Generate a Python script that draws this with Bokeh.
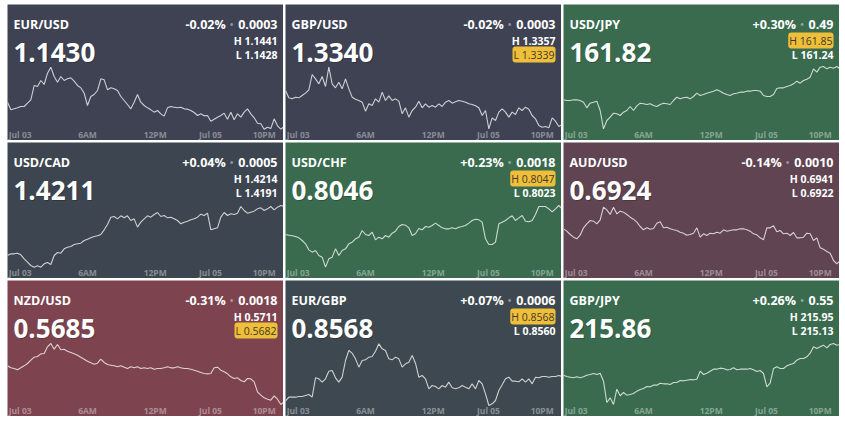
from bokeh.plotting import figure
from bokeh.layouts import gridplot
from bokeh.models import Label, Range1d
from bokeh.embed import file_html
from bokeh.resources import INLINE

# ---------------- data ----------------
pairs = ["EUR/USD", "GBP/USD", "USD/JPY", "USD/CAD", "USD/CHF", "AUD/USD", "NZD/USD", "EUR/GBP", "GBP/JPY"]
last_prices = ["1.1430", "1.3340", "161.82", "1.4211", "0.8046", "0.6924", "0.5685", "0.8568", "215.86"]
pct_changes = ["-0.02%", "-0.02%", "+0.30%", "+0.04%", "+0.23%", "-0.14%", "-0.31%", "+0.07%", "+0.26%"]
abs_changes = ["0.0003", "0.0003", "0.49", "0.0005", "0.0018", "0.0010", "0.0018", "0.0006", "0.55"]
highs = ["1.1441", "1.3357", "161.85", "1.4214", "0.8047", "0.6941", "0.5711", "0.8568", "215.95"]
lows = ["1.1428", "1.3339", "161.24", "1.4191", "0.8023", "0.6922", "0.5682", "0.8560", "215.13"]
high_flag = [False, False, True, False, True, False, False, True, False]
low_flag = [False, True, False, False, False, False, True, False, False]

time_ticks = [3.8, 24.0, 44.3, 60.9, 77.0]
time_labels = ["Jul 03", "6AM", "12PM", "Jul 05", "10PM"]

sample_index = list(range(84))

eurusd = [1.14207, 1.14184, 1.14187, 1.14190, 1.14194, 1.14194, 1.14204, 1.14214, 1.14257, 1.14254,
          1.14272, 1.14260, 1.14294, 1.14312, 1.14284, 1.14267, 1.14284, 1.14272, 1.14277, 1.14280,
          1.14270, 1.14257, 1.14250, 1.14234, 1.14197, 1.14224, 1.14230, 1.14242, 1.14277, 1.14274,
          1.14244, 1.14250, 1.14247, 1.14242, 1.14224, 1.14212, 1.14200, 1.14187, 1.14207, 1.14230,
          1.14207, 1.14197, 1.14190, 1.14184, 1.14177, 1.14182, 1.14172, 1.14165, 1.14190, 1.14194,
          1.14192, 1.14190, 1.14192, 1.14187, 1.14186, 1.14182, 1.14176, 1.14167, 1.14172, 1.14166,
          1.14167, 1.14150, 1.14156, 1.14162, 1.14167, 1.14174, 1.14156, 1.14177, 1.14154, 1.14172,
          1.14162, 1.14177, 1.14187, 1.14172, 1.14160, 1.14144, 1.14142, 1.14126, 1.14132, 1.14128,
          1.14157, 1.14136, 1.14126, 1.14134]
gbpusd = [1.33242, 1.33220, 1.33217, 1.33222, 1.33220, 1.33227, 1.33234, 1.33244, 1.33290, 1.33277,
          1.33262, 1.33284, 1.33254, 1.33312, 1.33262, 1.33250, 1.33267, 1.33247, 1.33277, 1.33247,
          1.33222, 1.33216, 1.33212, 1.33207, 1.33180, 1.33202, 1.33197, 1.33217, 1.33207, 1.33237,
          1.33212, 1.33226, 1.33212, 1.33217, 1.33210, 1.33172, 1.33190, 1.33162, 1.33182, 1.33192,
          1.33210, 1.33190, 1.33202, 1.33192, 1.33197, 1.33192, 1.33202, 1.33194, 1.33207, 1.33212,
          1.33204, 1.33208, 1.33212, 1.33210, 1.33207, 1.33202, 1.33200, 1.33196, 1.33190, 1.33167,
          1.33182, 1.33127, 1.33160, 1.33152, 1.33177, 1.33187, 1.33177, 1.33162, 1.33177, 1.33170,
          1.33190, 1.33182, 1.33192, 1.33186, 1.33167, 1.33157, 1.33137, 1.33132, 1.33134, 1.33130,
          1.33160, 1.33150, 1.33134, 1.33140]
usdjpy = [161.214, 161.212, 161.212, 161.214, 161.214, 161.212, 161.207, 161.190, 161.204, 161.207,
          161.210, 161.182, 161.127, 161.152, 161.162, 161.174, 161.172, 161.167, 161.177, 161.182,
          161.194, 161.182, 161.196, 161.204, 161.202, 161.200, 161.202, 161.197, 161.194, 161.200,
          161.204, 161.202, 161.200, 161.212, 161.222, 161.217, 161.220, 161.222, 161.217, 161.224,
          161.234, 161.227, 161.230, 161.234, 161.237, 161.240, 161.244, 161.240, 161.234, 161.230,
          161.227, 161.232, 161.234, 161.237, 161.237, 161.240, 161.240, 161.242, 161.242, 161.240,
          161.227, 161.224, 161.224, 161.230, 161.248, 161.250, 161.250, 161.254, 161.257, 161.262,
          161.270, 161.264, 161.272, 161.276, 161.282, 161.307, 161.297, 161.312, 161.314, 161.307,
          161.312, 161.309, 161.314, 161.307]
usdcad = [1.41161, 1.41166, 1.41166, 1.41168, 1.41163, 1.41151, 1.41141, 1.41131, 1.41126, 1.41130,
          1.41126, 1.41136, 1.41140, 1.41134, 1.41161, 1.41170, 1.41168, 1.41181, 1.41186, 1.41188,
          1.41194, 1.41196, 1.41198, 1.41206, 1.41210, 1.41214, 1.41218, 1.41220, 1.41224, 1.41238,
          1.41254, 1.41276, 1.41278, 1.41271, 1.41280, 1.41274, 1.41280, 1.41266, 1.41271, 1.41246,
          1.41261, 1.41271, 1.41280, 1.41276, 1.41284, 1.41290, 1.41278, 1.41281, 1.41274, 1.41276,
          1.41271, 1.41266, 1.41256, 1.41261, 1.41264, 1.41268, 1.41271, 1.41276, 1.41285, 1.41281,
          1.41288, 1.41238, 1.41241, 1.41244, 1.41276, 1.41290, 1.41281, 1.41286, 1.41284, 1.41288,
          1.41308, 1.41296, 1.41288, 1.41291, 1.41294, 1.41301, 1.41304, 1.41296, 1.41301, 1.41308,
          1.41298, 1.41306, 1.41311, 1.41308]
usdchf = [0.80224, 0.80222, 0.80220, 0.80218, 0.80214, 0.80206, 0.80196, 0.80178, 0.80171, 0.80176,
          0.80161, 0.80156, 0.80126, 0.80151, 0.80156, 0.80181, 0.80161, 0.80176, 0.80181, 0.80196,
          0.80201, 0.80211, 0.80216, 0.80236, 0.80224, 0.80221, 0.80231, 0.80208, 0.80216, 0.80211,
          0.80221, 0.80216, 0.80228, 0.80234, 0.80248, 0.80254, 0.80252, 0.80244, 0.80221, 0.80226,
          0.80242, 0.80238, 0.80248, 0.80246, 0.80251, 0.80258, 0.80251, 0.80244, 0.80241, 0.80241,
          0.80244, 0.80241, 0.80246, 0.80248, 0.80251, 0.80258, 0.80266, 0.80270, 0.80268, 0.80261,
          0.80211, 0.80194, 0.80194, 0.80201, 0.80256, 0.80261, 0.80266, 0.80274, 0.80280, 0.80266,
          0.80274, 0.80281, 0.80264, 0.80262, 0.80266, 0.80284, 0.80308, 0.80308, 0.80308, 0.80301,
          0.80292, 0.80301, 0.80311, 0.80301]
audusd = [0.69241, 0.69234, 0.69224, 0.69216, 0.69211, 0.69222, 0.69244, 0.69256, 0.69266, 0.69264,
          0.69256, 0.69268, 0.69306, 0.69298, 0.69284, 0.69306, 0.69286, 0.69294, 0.69291, 0.69284,
          0.69276, 0.69270, 0.69261, 0.69248, 0.69238, 0.69244, 0.69240, 0.69242, 0.69258, 0.69262,
          0.69244, 0.69246, 0.69241, 0.69238, 0.69236, 0.69231, 0.69228, 0.69222, 0.69224, 0.69228,
          0.69244, 0.69216, 0.69226, 0.69221, 0.69228, 0.69226, 0.69231, 0.69228, 0.69238, 0.69234,
          0.69236, 0.69238, 0.69238, 0.69241, 0.69241, 0.69238, 0.69234, 0.69226, 0.69223, 0.69214,
          0.69208, 0.69244, 0.69244, 0.69250, 0.69232, 0.69236, 0.69226, 0.69228, 0.69221, 0.69230,
          0.69214, 0.69214, 0.69216, 0.69228, 0.69226, 0.69206, 0.69214, 0.69184, 0.69180, 0.69173,
          0.69168, 0.69146, 0.69136, 0.69146]
nzdusd = [0.56244, 0.56238, 0.56236, 0.56232, 0.56238, 0.56244, 0.56251, 0.56261, 0.56270, 0.56272,
          0.56280, 0.56281, 0.56301, 0.56311, 0.56294, 0.56308, 0.56292, 0.56294, 0.56288, 0.56284,
          0.56280, 0.56276, 0.56270, 0.56264, 0.56258, 0.56253, 0.56249, 0.56252, 0.56264, 0.56254,
          0.56248, 0.56246, 0.56244, 0.56241, 0.56244, 0.56240, 0.56236, 0.56241, 0.56238, 0.56241,
          0.56236, 0.56238, 0.56236, 0.56238, 0.56234, 0.56236, 0.56236, 0.56238, 0.56241, 0.56238,
          0.56238, 0.56241, 0.56238, 0.56236, 0.56236, 0.56234, 0.56231, 0.56228, 0.56224, 0.56221,
          0.56220, 0.56221, 0.56238, 0.56240, 0.56231, 0.56226, 0.56220, 0.56211, 0.56206, 0.56208,
          0.56200, 0.56196, 0.56206, 0.56205, 0.56196, 0.56166, 0.56156, 0.56148, 0.56144, 0.56141,
          0.56154, 0.56144, 0.56128, 0.56136]
eurgbp = [0.85138, 0.85150, 0.85150, 0.85150, 0.85152, 0.85152, 0.85155, 0.85158, 0.85150, 0.85208,
          0.85205, 0.85195, 0.85205, 0.85228, 0.85230, 0.85208, 0.85195, 0.85210, 0.85260, 0.85290,
          0.85282, 0.85265, 0.85240, 0.85260, 0.85262, 0.85270, 0.85272, 0.85288, 0.85310, 0.85295,
          0.85290, 0.85265, 0.85262, 0.85270, 0.85265, 0.85240, 0.85250, 0.85255, 0.85275, 0.85252,
          0.85210, 0.85215, 0.85205, 0.85175, 0.85185, 0.85182, 0.85175, 0.85185, 0.85180, 0.85195,
          0.85178, 0.85175, 0.85178, 0.85185, 0.85180, 0.85175, 0.85190, 0.85175, 0.85200, 0.85190,
          0.85160, 0.85125, 0.85130, 0.85140, 0.85170, 0.85187, 0.85205, 0.85210, 0.85198, 0.85198,
          0.85196, 0.85205, 0.85195, 0.85205, 0.85190, 0.85210, 0.85208, 0.85212, 0.85212, 0.85210,
          0.85212, 0.85212, 0.85215, 0.85212]
gbpjpy = [215.216, 215.212, 215.210, 215.208, 215.211, 215.208, 215.211, 215.216, 215.218, 215.221,
          215.218, 215.222, 215.198, 215.134, 215.148, 215.128, 215.174, 215.154, 215.164, 215.156,
          215.158, 215.161, 215.168, 215.173, 215.176, 215.182, 215.181, 215.186, 215.186, 215.192,
          215.190, 215.190, 215.188, 215.194, 215.194, 215.200, 215.199, 215.201, 215.203, 215.202,
          215.204, 215.228, 215.218, 215.222, 215.228, 215.234, 215.234, 215.237, 215.236, 215.232,
          215.233, 215.238, 215.232, 215.234, 215.234, 215.234, 215.236, 215.232, 215.227, 215.230,
          215.221, 215.181, 215.192, 215.236, 215.241, 215.236, 215.236, 215.244, 215.248, 215.251,
          215.261, 215.266, 215.266, 215.271, 215.282, 215.301, 215.296, 215.301, 215.306, 215.298,
          215.308, 215.311, 215.306, 215.308]

series = [eurusd, gbpusd, usdjpy, usdcad, usdchf, audusd, nzdusd, eurgbp, gbpjpy]

# ---------------- layout / style ----------------
y_windows = [(1.14092, 1.14500), (1.33092, 1.33500), (161.092, 161.500),
             (1.41092, 1.41500), (0.80092, 0.80500), (0.69092, 0.69500),
             (0.56092, 0.56500), (0.85092, 0.85500), (215.092, 215.500)]
bg_colors = ["#3e4253", "#3e4253", "#3a6b4f",
             "#3d4650", "#3a6b4f", "#604452",
             "#7d4450", "#3e4850", "#3a6b4f"]

FONT = "Open Sans"
PW, PH = 276, 136
PAD = 6
BADGE = "#efbf3a"
BADGE_TEXT = "#3f3a2c"

CW = {c: 0.572 for c in "0123456789+"}
CW.update({".": 0.285, "%": 0.887, "-": 0.322, " ": 0.26})


def text_width(s, size):
    return sum(CW.get(c, 0.6) for c in s) * size


figs = []
for i in range(9):
    p = figure(width=PW, height=PH, output_backend="svg", toolbar_location=None,
               x_axis_location=None, y_axis_location=None,
               x_range=Range1d(0, 82.8), y_range=Range1d(*y_windows[i]),
               min_border=0, outline_line_color=None,
               background_fill_color=bg_colors[i], border_fill_color=bg_colors[i])
    p.grid.visible = False
    p.line(sample_index, series[i], line_color="white", line_alpha=0.75, line_width=1.1)

    # time labels
    for t, lab in zip(time_ticks, time_labels):
        p.add_layout(Label(x=t, x_units="data", y=6.5, y_units="screen", text=lab,
                           text_align="center", text_baseline="middle",
                           text_font=FONT, text_font_style="bold", text_font_size="8.5px",
                           text_color="white", text_alpha=0.4))

    # pair name
    p.add_layout(Label(x=PAD, y=PH - 19.5, x_units="screen", y_units="screen", text=pairs[i],
                       text_align="left", text_baseline="alphabetic",
                       text_font=FONT, text_font_style="bold", text_font_size="12.5px",
                       text_color="white"))
    # big price (with soft shadow)
    p.add_layout(Label(x=PAD + 1, y=PH - 49, x_units="screen", y_units="screen", text=last_prices[i],
                       text_align="left", text_baseline="alphabetic",
                       text_font=FONT, text_font_style="bold", text_font_size="26px",
                       text_color="black", text_alpha=0.22))
    p.add_layout(Label(x=PAD, y=PH - 48, x_units="screen", y_units="screen", text=last_prices[i],
                       text_align="left", text_baseline="alphabetic",
                       text_font=FONT, text_font_style="bold", text_font_size="26px",
                       text_color="white"))
    # change line
    right = PW - PAD
    p.add_layout(Label(x=right, y=PH - 19.5, x_units="screen", y_units="screen", text=abs_changes[i],
                       text_align="right", text_baseline="alphabetic",
                       text_font=FONT, text_font_style="bold", text_font_size="12.5px",
                       text_color="white"))
    dot_x = right - text_width(abs_changes[i], 12.5) - 6.5
    p.add_layout(Label(x=dot_x, y=PH - 19.5, x_units="screen", y_units="screen", text="\u2022",
                       text_align="center", text_baseline="alphabetic",
                       text_font=FONT, text_font_size="12.5px",
                       text_color="white", text_alpha=0.45))
    p.add_layout(Label(x=dot_x - 6, y=PH - 19.5, x_units="screen", y_units="screen", text=pct_changes[i],
                       text_align="right", text_baseline="alphabetic",
                       text_font=FONT, text_font_style="bold", text_font_size="12.5px",
                       text_color="white"))

    # high / low
    for txt, yb, flag in ((f"H {highs[i]}", PH - 36, high_flag[i]), (f"L {lows[i]}", PH - 50, low_flag[i])):
        if flag:
            p.add_layout(Label(x=right, y=yb, x_units="screen", y_units="screen", text=txt,
                               text_align="right", text_baseline="alphabetic",
                               text_font=FONT, text_font_size="10.5px", text_color=BADGE_TEXT,
                               background_fill_color=BADGE, background_fill_alpha=1.0,
                               border_radius=3, padding=1))
        else:
            p.add_layout(Label(x=right, y=yb, x_units="screen", y_units="screen", text=txt,
                               text_align="right", text_baseline="alphabetic",
                               text_font=FONT, text_font_style="bold", text_font_size="10.5px",
                               text_color="white"))
    figs.append(p)

grid = gridplot(figs, ncols=3, toolbar_location=None)
grid.spacing = 2
grid.margin = (4, 0, 0, 7)

open("out.html", "w").write(file_html(grid, INLINE))
